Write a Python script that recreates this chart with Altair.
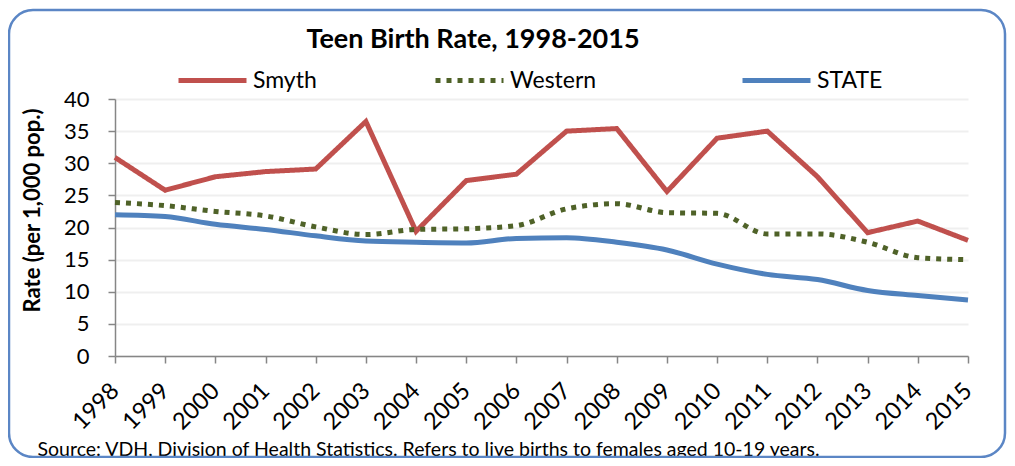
import altair as alt
import pandas as pd

years = list(range(1998, 2016))
series_names = ["Smyth", "Western", "STATE"]
smyth = [30.9, 25.8, 27.9, 28.7, 29.1, 36.5, 19.4, 27.3, 28.3, 35.0, 35.4, 25.6, 33.9, 35.0, 27.9, 19.2, 21.0, 18.0]
western = [23.9, 23.4, 22.5, 21.8, 20.1, 18.9, 19.7, 19.8, 20.3, 22.9, 23.7, 22.3, 22.2, 19.0, 19.0, 17.7, 15.3, 15.0]
state = [22.0, 21.7, 20.5, 19.7, 18.7, 17.9, 17.7, 17.6, 18.3, 18.4, 17.7, 16.5, 14.3, 12.7, 11.9, 10.2, 9.4, 8.7]
colors = ["#C0504D", "#4F6228", "#4F81BD"]
y_ticks = [0, 5, 10, 15, 20, 25, 30, 35, 40]
chart_title = "Teen Birth Rate, 1998-2015"
source_note = "Source: VDH, Division of Health Statistics.  Refers to live births to females aged 10-19 years."

rows = []
for name, vals in zip(series_names, [smyth, western, state]):
    for yr, v in zip(years, vals):
        rows.append({"Year": yr, "Series": name, "Rate": v})
df = pd.DataFrame(rows)

FONT = "Lato"

legend_common = dict(
    title=None, orient="none", direction="horizontal", legendY=-55,
    symbolType="stroke", symbolSize=4624, symbolStrokeWidth=5,
    labelFontSize=23, labelFont=FONT, labelColor="#000000",
    labelOffset=4, gridAlign="none",
)

# Smyth + Western share one legend (stroke channel), STATE gets its own (color channel)
stroke_enc = alt.Stroke(
    "Series:N",
    scale=alt.Scale(domain=series_names[:2], range=colors[:2]),
    legend=alt.Legend(legendX=61, columnPadding=108, **legend_common),
)
dash_enc = alt.StrokeDash(
    "Series:N",
    scale=alt.Scale(domain=series_names[:2], range=[[1, 0], [5, 6]]),
    legend=None,
)
state_color_enc = alt.Color(
    "Series:N",
    scale=alt.Scale(domain=series_names[2:], range=colors[2:]),
    legend=alt.Legend(legendX=625, **legend_common),
)

x_enc = alt.X(
    "Year:Q",
    scale=alt.Scale(domain=[1998, 2015], nice=False, zero=False),
    axis=alt.Axis(
        values=years, format="d", labelAngle=315, labelAlign="right",
        labelBaseline="middle", labelPadding=24, labelFontSize=23.5,
        labelOverlap=False,
        tickSize=7, tickColor="#868686", domainColor="#868686", domainWidth=1.5,
        tickWidth=1.5, grid=False,
        title=source_note,
        titleFontSize=19.5, titleFontWeight="normal", titleFont=FONT,
        titleAnchor="start", titleAlign="left", titleX=-78, titleY=93,
        titleBaseline="middle", titleColor="#000000",
    ),
)
y_enc = alt.Y(
    "Rate:Q",
    scale=alt.Scale(domain=[0, 40], nice=False),
    axis=alt.Axis(
        values=y_ticks, labelFontSize=22, tickSize=7, tickColor="#868686",
        tickWidth=1.5, domainColor="#868686", domainWidth=1.5,
        gridColor="#EFEFEF", gridWidth=2, labelPadding=19,
        title="Rate (per 1,000 pop.)", titleFontSize=22, titleFontWeight="bold",
        titleFont=FONT, titleColor="#000000", titleAngle=270,
        titleX=-71, titleY=111, titleBaseline="bottom", titleAlign="center",
    ),
)

base = alt.Chart(df)
state_layer = base.transform_filter(alt.datum.Series == "STATE").mark_line(
    strokeWidth=5, interpolate="monotone"
).encode(x=x_enc, y=y_enc, color=state_color_enc)

smyth_layer = base.transform_filter(alt.datum.Series == "Smyth").mark_line(
    strokeWidth=5, interpolate="linear"
).encode(x=x_enc, y=y_enc, stroke=stroke_enc, strokeDash=dash_enc)

western_layer = base.transform_filter(alt.datum.Series == "Western").mark_line(
    strokeWidth=5, interpolate="monotone"
).encode(x=x_enc, y=y_enc, stroke=stroke_enc, strokeDash=dash_enc)

deco = pd.DataFrame({"label": [chart_title]})
border = alt.Chart(deco).mark_rect(
    filled=False, stroke="#5B86C5", strokeWidth=2.5, cornerRadius=24
).encode(
    x=alt.value(-106), x2=alt.value(890), y=alt.value(-89), y2=alt.value(358)
)
title_text = alt.Chart(deco).mark_text(
    font=FONT, fontSize=27, fontWeight="bold", color="#000000",
    align="center", baseline="alphabetic"
).encode(
    text="label:N", x=alt.value(358), y=alt.value(-51)
)

chart = alt.layer(
    border, title_text, state_layer, smyth_layer, western_layer
).resolve_scale(
    stroke="shared", color="independent"
).properties(
    width=853, height=257,
    autosize=alt.AutoSizeParams(type="none"),
    padding={"left": 107, "top": 91, "right": 39, "bottom": 102},
).configure(
    font=FONT,
).configure_view(
    stroke=None
).configure_axis(
    labelFont=FONT, labelColor="#000000",
)

chart.save("out.html", embed_options={"renderer": "svg", "actions": False})
